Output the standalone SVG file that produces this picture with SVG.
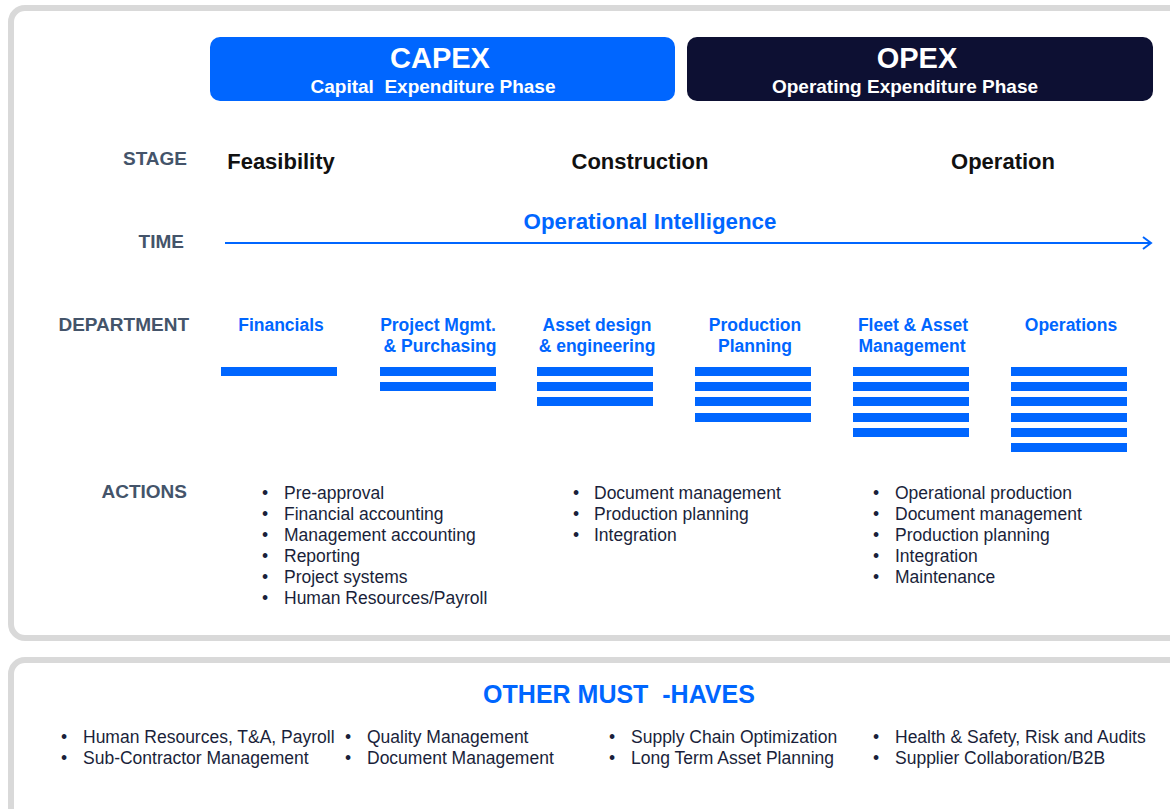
<svg xmlns="http://www.w3.org/2000/svg" width="1170" height="809" viewBox="0 0 1170 809">
<style>
.panel{fill:#fff;stroke:#d9d9d9;stroke-width:6}
.hdr{font-family:"Liberation Sans",Arial,sans-serif;font-weight:bold;fill:#fff;text-anchor:middle}
.lbl{font-family:"Liberation Sans",Arial,sans-serif;font-weight:bold;font-size:19px;fill:#44546a;text-anchor:end}
.stage{font-family:"Liberation Sans",Arial,sans-serif;font-weight:bold;font-size:22px;fill:#111;text-anchor:middle}
.dept{font-family:"Liberation Sans",Arial,sans-serif;font-weight:bold;font-size:17.5px;fill:#0066ff;text-anchor:middle}
.bar{fill:#0066ff}
.item{font-family:"Liberation Sans",Arial,sans-serif;font-size:17.5px;fill:#1a1f3a}
</style>
<defs>
<marker id="arr" markerWidth="14" markerHeight="14" refX="11" refY="7" orient="auto" markerUnits="userSpaceOnUse">
<path d="M3,1 L11,7 L3,13" fill="none" stroke="#0066ff" stroke-width="2"/>
</marker>
</defs>
<g id="panel-top"><rect class="panel" x="11" y="8" width="1180" height="630" rx="14"/></g>
<g id="panel-bottom"><rect class="panel" x="11" y="660" width="1180" height="180" rx="14"/></g>
<g id="capex">
<rect x="210" y="37" width="465" height="64" rx="10" fill="#0066ff"/>
<text class="hdr" x="440" y="68" font-size="29">CAPEX</text>
<text class="hdr" x="433" y="93" font-size="19" xml:space="preserve">Capital  Expenditure Phase</text>
</g>
<g id="opex">
<rect x="687" y="37" width="466" height="64" rx="10" fill="#0d1033"/>
<text class="hdr" x="917" y="68" font-size="29">OPEX</text>
<text class="hdr" x="905" y="93" font-size="19">Operating Expenditure Phase</text>
</g>
<g id="row-labels">
<text class="lbl" x="187" y="165">STAGE</text>
<text class="lbl" x="184" y="248">TIME</text>
<text class="lbl" x="189" y="331">DEPARTMENT</text>
<text class="lbl" x="187" y="498">ACTIONS</text>
</g>
<g id="stages">
<text class="stage" x="281" y="169">Feasibility</text>
<text class="stage" x="640" y="169">Construction</text>
<text class="stage" x="1003" y="169">Operation</text>
</g>
<g id="time">
<text x="650" y="229" font-family="Liberation Sans, Arial, sans-serif" font-weight="bold" font-size="22.3" fill="#0066ff" text-anchor="middle">Operational Intelligence</text>
</g>
<g id="connectors">
<line x1="225" y1="243" x2="1151" y2="243" stroke="#0066ff" stroke-width="2" marker-end="url(#arr)"/>
</g>
<g id="dept-financials">
<text class="dept" x="281" y="331">Financials</text>
<rect class="bar" x="221" y="367" width="116" height="9"/>
</g>
<g id="dept-project">
<text class="dept" x="438" y="331">Project Mgmt.</text>
<text class="dept" x="440" y="352">&amp; Purchasing</text>
<rect class="bar" x="380" y="367" width="116" height="9"/>
<rect class="bar" x="380" y="382" width="116" height="9"/>
</g>
<g id="dept-asset">
<text class="dept" x="597" y="331">Asset design</text>
<text class="dept" x="597" y="352">&amp; engineering</text>
<rect class="bar" x="537" y="367" width="116" height="9"/>
<rect class="bar" x="537" y="382" width="116" height="9"/>
<rect class="bar" x="537" y="397" width="116" height="9"/>
</g>
<g id="dept-production">
<text class="dept" x="755" y="331">Production</text>
<text class="dept" x="755" y="352">Planning</text>
<rect class="bar" x="695" y="367" width="116" height="9"/>
<rect class="bar" x="695" y="382" width="116" height="9"/>
<rect class="bar" x="695" y="397" width="116" height="9"/>
<rect class="bar" x="695" y="413" width="116" height="9"/>
</g>
<g id="dept-fleet">
<text class="dept" x="913" y="331">Fleet &amp; Asset</text>
<text class="dept" x="912" y="352">Management</text>
<rect class="bar" x="853" y="367" width="116" height="9"/>
<rect class="bar" x="853" y="382" width="116" height="9"/>
<rect class="bar" x="853" y="397" width="116" height="9"/>
<rect class="bar" x="853" y="413" width="116" height="9"/>
<rect class="bar" x="853" y="428" width="116" height="9"/>
</g>
<g id="dept-operations">
<text class="dept" x="1071" y="331">Operations</text>
<rect class="bar" x="1011" y="367" width="116" height="9"/>
<rect class="bar" x="1011" y="382" width="116" height="9"/>
<rect class="bar" x="1011" y="397" width="116" height="9"/>
<rect class="bar" x="1011" y="413" width="116" height="9"/>
<rect class="bar" x="1011" y="428" width="116" height="9"/>
<rect class="bar" x="1011" y="443" width="116" height="9"/>
</g>
<g id="actions-capex" class="item">
<text x="262" y="499">•</text><text x="284" y="499">Pre-approval</text>
<text x="262" y="520">•</text><text x="284" y="520">Financial accounting</text>
<text x="262" y="541">•</text><text x="284" y="541">Management accounting</text>
<text x="262" y="562">•</text><text x="284" y="562">Reporting</text>
<text x="262" y="583">•</text><text x="284" y="583">Project systems</text>
<text x="262" y="604">•</text><text x="284" y="604">Human Resources/Payroll</text>
</g>
<g id="actions-construction" class="item">
<text x="573" y="499">•</text><text x="594" y="499">Document management</text>
<text x="573" y="520">•</text><text x="594" y="520">Production planning</text>
<text x="573" y="541">•</text><text x="594" y="541">Integration</text>
</g>
<g id="actions-operation" class="item">
<text x="873" y="499">•</text><text x="895" y="499">Operational production</text>
<text x="873" y="520">•</text><text x="895" y="520">Document management</text>
<text x="873" y="541">•</text><text x="895" y="541">Production planning</text>
<text x="873" y="562">•</text><text x="895" y="562">Integration</text>
<text x="873" y="583">•</text><text x="895" y="583">Maintenance</text>
</g>
<g id="must-haves">
<text x="619" y="703" font-family="Liberation Sans, Arial, sans-serif" font-weight="bold" font-size="25" fill="#0066ff" text-anchor="middle" xml:space="preserve">OTHER MUST  -HAVES</text>
<g class="item">
<text x="61" y="743">•</text><text x="83" y="743">Human Resources, T&amp;A, Payroll</text>
<text x="61" y="764">•</text><text x="83" y="764">Sub-Contractor Management</text>
<text x="345" y="743">•</text><text x="367" y="743">Quality Management</text>
<text x="345" y="764">•</text><text x="367" y="764">Document Management</text>
<text x="609" y="743">•</text><text x="631" y="743">Supply Chain Optimization</text>
<text x="609" y="764">•</text><text x="631" y="764">Long Term Asset Planning</text>
<text x="873" y="743">•</text><text x="895" y="743">Health &amp; Safety, Risk and Audits</text>
<text x="873" y="764">•</text><text x="895" y="764">Supplier Collaboration/B2B</text>
</g>
</g>
</svg>
